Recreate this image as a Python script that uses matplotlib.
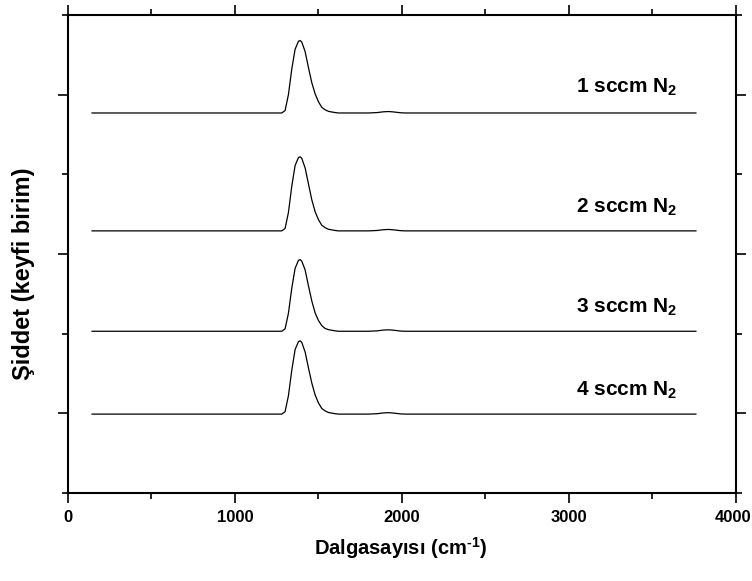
import matplotlib
matplotlib.use("Agg")
import matplotlib.pyplot as plt
from matplotlib.ticker import MultipleLocator, NullFormatter, FuncFormatter

plt.rcParams['font.family'] = ['Liberation Sans', 'DejaVu Sans']
plt.rcParams['font.weight'] = 'bold'
plt.rcParams['mathtext.fontset'] = 'custom'
plt.rcParams['mathtext.rm'] = 'Liberation Sans:bold'
plt.rcParams['mathtext.default'] = 'rm'

# wavenumbers (cm^-1)
wavenumber = [144, 1280, 1300, 1320, 1340, 1360, 1380, 1390, 1400, 1420, 1440, 1460,
              1480, 1500, 1520, 1540, 1560, 1600, 1620, 1800, 1850, 1890, 1920, 1950,
              1990, 2020, 3760]

# intensities (arbitrary units, offset stacked)
sccm1 = [4.77, 4.77, 4.80, 5.00, 5.32, 5.57, 5.67, 5.68, 5.66, 5.54, 5.34, 5.15,
         5.01, 4.91, 4.84, 4.81, 4.79, 4.775, 4.77, 4.77, 4.775, 4.785, 4.788, 4.783,
         4.773, 4.77, 4.77]
sccm2 = [3.29, 3.29, 3.32, 3.52, 3.85, 4.11, 4.21, 4.22, 4.20, 4.08, 3.88, 3.68,
         3.53, 3.43, 3.36, 3.33, 3.31, 3.295, 3.29, 3.29, 3.295, 3.305, 3.308, 3.303,
         3.293, 3.29, 3.29]
sccm3 = [2.03, 2.03, 2.06, 2.255, 2.57, 2.82, 2.92, 2.93, 2.91, 2.80, 2.60, 2.41,
         2.26, 2.165, 2.10, 2.065, 2.05, 2.035, 2.03, 2.03, 2.035, 2.045, 2.048, 2.043,
         2.033, 2.03, 2.03]
sccm4 = [0.99, 0.99, 1.02, 1.22, 1.54, 1.80, 1.90, 1.91, 1.89, 1.77, 1.57, 1.38,
         1.23, 1.13, 1.06, 1.03, 1.01, 0.995, 0.99, 0.99, 0.995, 1.005, 1.008, 1.003,
         0.993, 0.99, 0.99]

series = [sccm1, sccm2, sccm3, sccm4]
labels = ["1 sccm N$_2$", "2 sccm N$_2$", "3 sccm N$_2$", "4 sccm N$_2$"]
label_y = [5.09, 3.59, 2.33, 1.29]
label_x = 3650
x_max = 4000

fig = plt.figure(figsize=(7.52, 5.81), dpi=100)
ax = fig.add_axes([0.0904, 0.1515, 0.8883, 0.8227])

for s in series:
    ax.plot(wavenumber, s, color='black', lw=0.9)

for lab, ly in zip(labels, label_y):
    ax.text(label_x, ly, lab, ha='right', va='center', fontsize=15, fontweight='bold')

ax.set_xlim(0, x_max)
ax.set_ylim(0, 6)
ax.xaxis.set_major_locator(MultipleLocator(1000))
ax.xaxis.set_minor_locator(MultipleLocator(500))
# last label drawn separately so it stays inside the canvas
ax.xaxis.set_major_formatter(FuncFormatter(lambda v, p: '' if v >= x_max else f'{v:.0f}'))
ax.set_yticks([1, 3, 5])
ax.set_yticks([0, 2, 4, 6], minor=True)
ax.yaxis.set_major_formatter(NullFormatter())

ax.tick_params(axis='both', which='both', direction='out', top=True, right=True,
               width=1.2, labelsize=12)
ax.tick_params(axis='both', which='major', length=7, pad=5)
ax.tick_params(axis='both', which='minor', length=4)
for sp in ax.spines.values():
    sp.set_linewidth(1.5)

fig.text(1 - 1 / 752, 1 - 517 / 581, f'{x_max}', fontsize=12, fontweight='bold',
         ha='right', va='center')

fig.text(401 / 752, 1 - 548 / 581, "Dalgasayısı (cm$^{\\text{-}1}$)",
         fontsize=14.5, fontweight='bold', ha='center', va='center')
fig.text(24 / 752, 1 - 274 / 581, "Şiddet (keyfi birim)", rotation=90,
         fontsize=17, fontweight='bold', ha='center', va='center')

fig.savefig("out.png", dpi=100)
